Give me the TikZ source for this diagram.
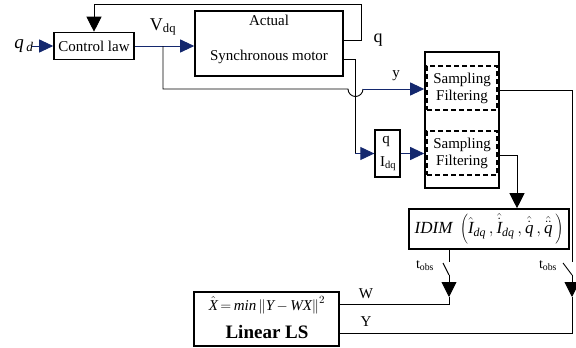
\documentclass[tikz,border=0pt]{standalone}
\usepackage{fontspec}
\setmainfont{Liberation Serif}
\usetikzlibrary{arrows.meta}
\definecolor{navy}{RGB}{20,40,110}
\begin{document}
\begin{tikzpicture}[x=1pt,y=-1pt,font=\fontsize{15}{17}\selectfont,
  box/.style={draw,line width=1.6pt,rectangle,inner sep=0pt},
  dbox/.style={draw,line width=1.3pt,dash pattern=on 5pt off 3pt,rectangle,inner sep=0pt,align=center},
  wire/.style={line width=0.9pt},
  bwire/.style={line width=0.9pt,draw=navy},
  barrow/.style={bwire,-{Triangle[length=14pt,width=13pt]}},
  karrow/.style={wire,-{Triangle[length=15pt,width=15pt]}},
  lbl/.style={inner sep=0pt}]
\useasboundingbox (0,0) rectangle (576,348);
% boxes
\node[box,minimum width=80pt,minimum height=27pt] (ctrl) at (94,46) {Control law};
\node[box,minimum width=148pt,minimum height=65pt] (motor) at (269,43.5) {};
\node[lbl] (act) at (269,20) {Actual};
\node[lbl] (syn) at (269,57) {Synchronous motor};
\node[box,minimum width=74pt,minimum height=136pt] (samp) at (462,120) {};
\node[dbox,minimum width=70pt,minimum height=44pt] (s1) at (462,88) {Sampling\\Filtering};
\node[dbox,minimum width=70pt,minimum height=44pt] (s2) at (462,153) {Sampling\\Filtering};
\node[box,line width=1.3pt,minimum width=25pt,minimum height=47pt] (qi) at (387.5,153.5) {};
\node[lbl] (qiq) at (386,141) {q};
\node[lbl] (qii) at (388,164) {$\mathrm{I}_{\mathrm{dq}}$};
\node[box,minimum width=160pt,minimum height=40pt] (idim) at (489,229)
  {\fontsize{17}{19}\selectfont$\mathit{IDIM}\;\left(\hat{\mathit{I}}_{\mathit{dq}}\,,\hat{\dot{\mathit{I}}}_{\mathit{dq}}\,,\hat{\dot{\mathit{q}}}\,,\hat{\ddot{\mathit{q}}}\,\right)$};
\node[lbl] (form) at (267,305) {$\hat{\mathit{X}}\,{=}\,\mathit{min}\left\Vert \mathit{Y}\,\mathrm{-}\,\mathit{WX}\right\Vert^{2}$};
\node[box,minimum width=145pt,minimum height=54pt] (ls) at (266.5,319) {};
\node[lbl] (lin) at (267,332) {\fontsize{19}{21}\selectfont\bfseries Linear LS};
% labels
\node[lbl] (qd) at (24,46) {\fontsize{19}{21}\selectfont$\mathit{q}_{\,\mathit{d}}$};
\node[lbl] (vdq) at (163,27) {\fontsize{18}{20}\selectfont$\mathrm{V}_{\mathrm{dq}}$};
\node[lbl] (ql) at (378,40) {\fontsize{18}{20}\selectfont q};
\node[lbl] (yl) at (396,76) {y};
\node[lbl] (t1) at (425,266) {\fontsize{14}{16}\selectfont t$_{\mathrm{obs}}$};
\node[lbl] (t2) at (548,266) {\fontsize{14}{16}\selectfont t$_{\mathrm{obs}}$};
\node[lbl] (wl) at (366,294) {W};
\node[lbl] (yl2) at (366,322) {Y};
% coordinates
\coordinate (fb) at (361,40);
\coordinate (br) at (163,46);
\coordinate (jl) at (348,89);
\coordinate (jr) at (363,89);
\coordinate (mo) at (355,59);
\coordinate (c2) at (517,155);
\coordinate (r1) at (572,90);
\coordinate (r2) at (572,262);
\coordinate (r3) at (572,275);
\coordinate (r4) at (572,297);
\coordinate (l1) at (449,262);
\coordinate (l2) at (449,275);
\coordinate (l3) at (449,297);
% connectors
\draw[barrow] ([xshift=-2pt]qd.east |- ctrl.west) -- (ctrl.west);
\draw[karrow] (motor.east |- fb) -- (fb) |- (ctrl.north |- 0,4) -- (ctrl.north);
\draw[barrow] (ctrl.east) -- (ctrl.east -| motor.west);
\draw[wire] (br) |- (jl) arc[start angle=180,end angle=0,radius=7.5];
\draw[barrow] (jr) -- (samp.west |- jr);
\draw[wire] (motor.east |- mo) -- (mo) -- (mo |- qi.west);
\draw[barrow] (mo |- qi.west) -- (qi.west);
\draw[barrow] (qi.east) -- (qi.east -| samp.west);
\draw[wire] (samp.east |- r1) -- (r1) -- (r2);
\draw[wire] (563,263) -- (r3);
\draw[karrow] (r3) -- (r4);
\draw[wire] (r4) |- (ls.east |- 0,333);
\draw[karrow] (samp.east |- c2) -- (c2) -- (c2 |- idim.north);
\draw[wire] (idim.south -| l1) -- (l1);
\draw[wire] (443,263) -- (l2);
\draw[karrow] (l2) -- (l3);
\draw[wire] (l3) |- (ls.east |- 0,304);
\end{tikzpicture}
\end{document}
